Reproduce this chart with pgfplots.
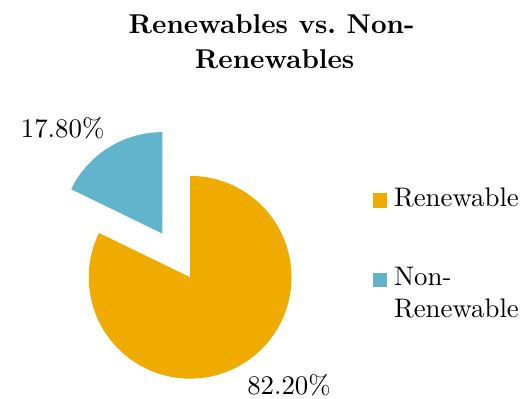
\documentclass[border=0pt]{standalone}
\usepackage{pgfplots}
\usepackage{pgfplotstable}
\pgfplotsset{compat=1.18}
\definecolor{renew}{RGB}{240,171,0}
\definecolor{nonrenew}{RGB}{98,180,204}
\font\lmreg="[lmroman10-regular.otf]" at 27pt
\font\lmbold="[lmroman10-bold.otf]" at 27.4pt
\pgfplotstableread{
label value
Renewable 82.2
NonRenewable 17.8
}\piedata
\begin{document}
\pgfplotstablegetelem{0}{value}\of\piedata \let\vR\pgfplotsretval
\pgfplotstablegetelem{1}{value}\of\piedata \let\vN\pgfplotsretval
\pgfmathsetmacro{\aN}{90+360*\vN/100}
\begin{tikzpicture}
\begin{axis}[
  hide axis, scale only axis,
  width=532pt, height=401pt,
  xmin=0, xmax=532, ymin=0, ymax=401,
  clip=false,
]
\path (axis cs:0,0) rectangle (axis cs:532,401);
% slices
\fill[nonrenew] (axis cs:160,166) -- ++(90:102pt) arc[start angle=90, end angle=\aN, radius=102pt] -- cycle;
\fill[renew] (axis cs:188,122) -- ++(\aN:102pt) arc[start angle=\aN, end angle=450, radius=102pt] -- cycle;
% title
\node[anchor=base, inner sep=0pt, font=\lmbold] at (axis cs:270,367) {Renewables vs.\ Non-};
\node[anchor=base, inner sep=0pt, font=\lmbold] at (axis cs:273,332) {Renewables};
% labels
\node[anchor=base, inner sep=0pt, font=\lmreg] at (axis cs:59.7,262.7) {\pgfmathprintnumber[fixed,fixed zerofill,precision=2,assume math mode=true]{\vN}\%};
\node[anchor=base, inner sep=0pt, font=\lmreg] at (axis cs:287.5,4) {\pgfmathprintnumber[fixed,fixed zerofill,precision=2,assume math mode=true]{\vR}\%};
% legend
\fill[renew] (axis cs:372,192) rectangle (axis cs:386,206.7);
\fill[nonrenew] (axis cs:372,112) rectangle (axis cs:386,126.7);
\node[anchor=base west, inner sep=0pt, font=\lmreg] at (axis cs:393,193.3) {Renewable};
\node[anchor=base west, inner sep=0pt, font=\lmreg] at (axis cs:393,113.3) {Non-};
\node[anchor=base west, inner sep=0pt, font=\lmreg] at (axis cs:393,81.7) {Renewable};
\end{axis}
\end{tikzpicture}
\end{document}
